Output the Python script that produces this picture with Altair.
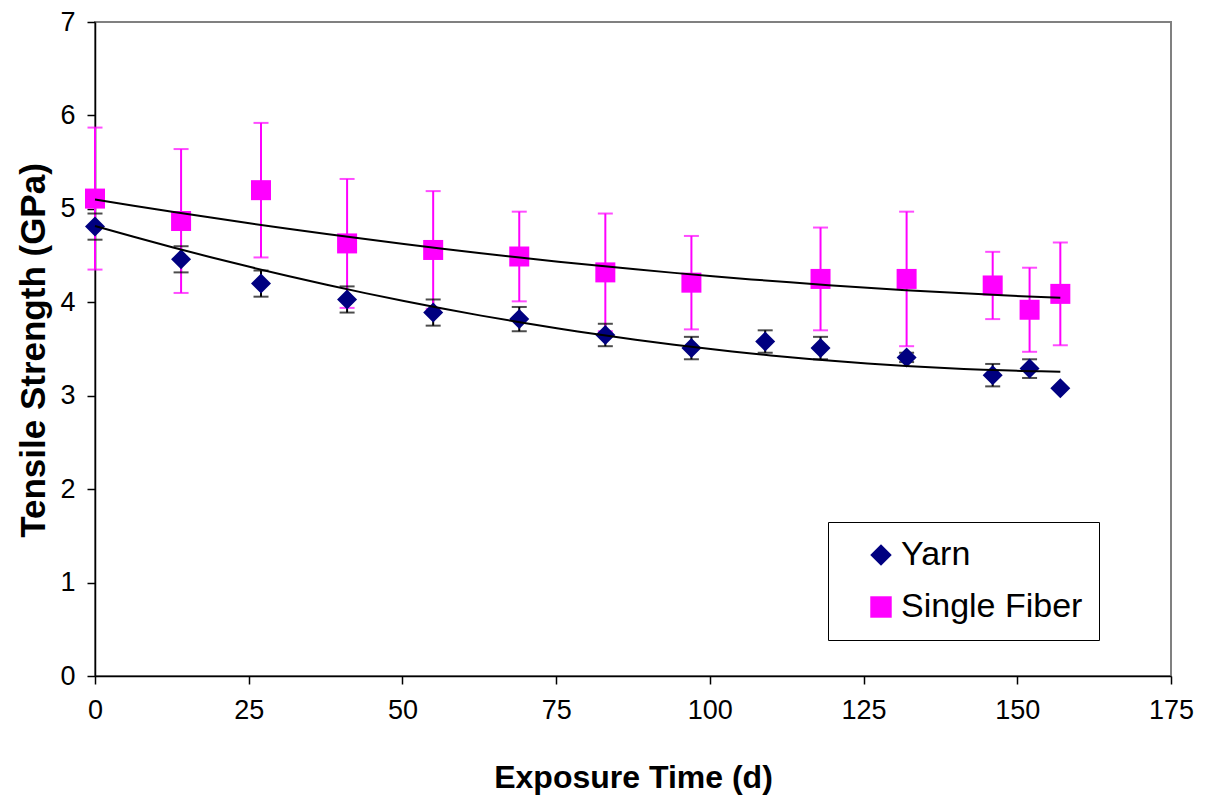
import altair as alt
import pandas as pd

# ---- data ----
days_yarn = [0, 14, 27, 41, 55, 69, 83, 97, 109, 118, 132, 146, 152, 157]
yarn_strength = [4.81, 4.46, 4.20, 4.03, 3.89, 3.82, 3.65, 3.51, 3.58, 3.51, 3.41, 3.22, 3.29, 3.08]
yarn_err = [0.14, 0.14, 0.14, 0.14, 0.14, 0.13, 0.12, 0.12, 0.12, 0.12, 0.05, 0.12, 0.10, 0.0]

days_fiber = [0, 14, 27, 41, 55, 69, 83, 97, 118, 132, 146, 152, 157]
fiber_strength = [5.11, 4.87, 5.20, 4.63, 4.56, 4.49, 4.32, 4.21, 4.25, 4.25, 4.18, 3.92, 4.09]
fiber_err = [0.76, 0.77, 0.72, 0.69, 0.63, 0.48, 0.63, 0.50, 0.55, 0.72, 0.36, 0.45, 0.55]

# trend-line heights
trend_days = [0, 14, 27, 41, 55, 69, 83, 97, 118, 132, 146, 157]
trend_yarn = [4.82, 4.58, 4.34, 4.12, 3.94, 3.80, 3.66, 3.51, 3.39, 3.33, 3.27, 3.25]
trend_fiber = [5.10, 4.95, 4.84, 4.70, 4.58, 4.48, 4.38, 4.30, 4.19, 4.14, 4.07, 4.05]

series_names = ["Yarn", "Single Fiber"]
series_colors = ["#000080", "#FF00FF"]
series_shapes = ["diamond", "square"]
errbar_colors = ["#000000", "#FF00FF"]

x_ticks = [0, 25, 50, 75, 100, 125, 150, 175]
y_ticks = [0, 1, 2, 3, 4, 5, 6, 7]

rows = []
for d, v, e in zip(days_yarn, yarn_strength, yarn_err):
    rows.append({"day": d, "value": v, "lo": v - e, "hi": v + e,
                 "series": series_names[0], "ecolor": errbar_colors[0]})
for d, v, e in zip(days_fiber, fiber_strength, fiber_err):
    rows.append({"day": d, "value": v, "lo": v - e, "hi": v + e,
                 "series": series_names[1], "ecolor": errbar_colors[1]})
df = pd.DataFrame(rows)

trows = []
for d, a, b in zip(trend_days, trend_yarn, trend_fiber):
    trows.append({"day": d, "value": a, "series": series_names[0]})
    trows.append({"day": d, "value": b, "series": series_names[1]})
tdf = pd.DataFrame(trows)

FONT = "Liberation Sans"

x_enc = alt.X("day:Q", scale=alt.Scale(domain=[0, 175], nice=False),
              axis=alt.Axis(values=x_ticks, title="Exposure Time (d)", format="d",
                            labelFlush=False,
                            titleX=538, titleY=101, titleBaseline="middle",
                            titleAlign="center", titleAnchor=None))
y_scale = alt.Scale(domain=[0, 7], nice=False)

base = alt.Chart(df)

err_rule = base.mark_rule(strokeWidth=2).encode(
    x=x_enc,
    y=alt.Y("lo:Q", scale=y_scale),
    y2="hi:Q",
    color=alt.Color("ecolor:N", scale=None),
)
cap_lo = base.mark_tick(orient="horizontal", size=15, thickness=2).encode(
    x="day:Q", y=alt.Y("lo:Q", scale=y_scale), color=alt.Color("ecolor:N", scale=None))
cap_hi = base.mark_tick(orient="horizontal", size=15, thickness=2).encode(
    x="day:Q", y=alt.Y("hi:Q", scale=y_scale), color=alt.Color("ecolor:N", scale=None))

points = base.mark_point(filled=True, opacity=1, size=400).encode(
    x="day:Q",
    y=alt.Y("value:Q", scale=y_scale,
            axis=alt.Axis(values=y_ticks, title="Tensile Strength (GPa)", format="d",
                          labelFlush=False,
                          titleAngle=270, titleX=-62, titleY=328,
                          titleBaseline="middle", titleAlign="center",
                          titleFontSize=35)),
    color=alt.Color("series:N",
                    scale=alt.Scale(domain=series_names, range=series_colors),
                    legend=alt.Legend(title=None)),
    shape=alt.Shape("series:N",
                    scale=alt.Scale(domain=series_names, range=series_shapes),
                    legend=alt.Legend(title=None)),
)

trend = alt.Chart(tdf).transform_regression(
    "day", "value", groupby=["series"], method="poly", order=2, extent=[0, 157]
).mark_line(color="black", strokeWidth=2).encode(
    x="day:Q", y=alt.Y("value:Q", scale=y_scale), detail="series:N")

chart = alt.layer(err_rule, cap_lo, cap_hi, points, trend).properties(
    width=1076, height=654,
    autosize=alt.AutoSizeParams(type="none"),
    padding={"left": 95, "top": 22, "right": 38, "bottom": 126},
    background="white",
).configure_view(
    stroke="#808080", strokeWidth=2
).configure_axis(
    grid=False,
    domainColor="black", domainWidth=1.5,
    tickColor="black", tickSize=8, tickWidth=1.5,
    labelFont=FONT, labelFontSize=27, labelColor="black",
    titleFont=FONT, titleFontSize=32, titleFontWeight="bold", titleColor="black",
).configure_axisX(
    labelPadding=13, labelBaseline="top",
).configure_axisY(
    labelPadding=12,
).configure_legend(
    orient="none", legendX=733, legendY=500,
    strokeColor="black", fillColor="white", padding=16,
    symbolSize=460, symbolStrokeWidth=0, symbolOffset=20, symbolOpacity=1,
    labelFont=FONT, labelFontSize=34, labelColor="black", labelOffset=3,
    rowPadding=18, labelLimit=400,
)

chart.save("out.html", embed_options={"renderer": "svg", "actions": False})
